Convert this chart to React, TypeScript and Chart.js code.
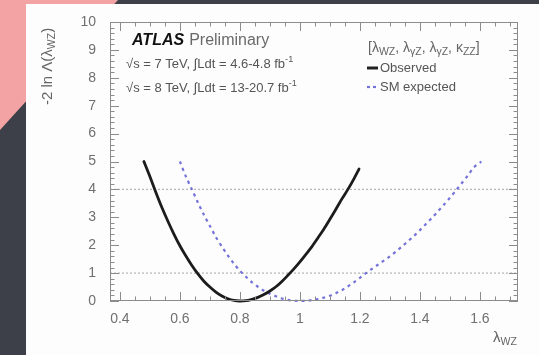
import React, { useEffect, useRef } from "react";
import { Chart, registerables } from "chart.js";

Chart.register(...registerables);

// ---- data ----
const obsX = [0.48, 0.5, 0.52, 0.54, 0.56, 0.58, 0.6, 0.62, 0.64, 0.66, 0.68, 0.7, 0.72, 0.74, 0.76, 0.78, 0.8, 0.82, 0.84, 0.86, 0.88, 0.9, 0.92, 0.94, 0.96, 0.98, 1.0, 1.02, 1.04, 1.06, 1.08, 1.1, 1.12, 1.14, 1.16, 1.18, 1.197];
const obsY = [5.0, 4.46, 3.89, 3.35, 2.86, 2.4, 1.98, 1.61, 1.27, 0.97, 0.71, 0.5, 0.32, 0.18, 0.08, 0.02, 0.0, 0.01, 0.06, 0.13, 0.23, 0.36, 0.51, 0.7, 0.92, 1.15, 1.4, 1.67, 1.95, 2.26, 2.58, 2.93, 3.29, 3.66, 4.0, 4.38, 4.73];

const expX = [0.6, 0.62, 0.64, 0.66, 0.68, 0.7, 0.72, 0.74, 0.76, 0.78, 0.8, 0.82, 0.84, 0.86, 0.88, 0.9, 0.92, 0.94, 0.96, 0.98, 1.0, 1.02, 1.04, 1.06, 1.08, 1.1, 1.12, 1.14, 1.16, 1.18, 1.2, 1.22, 1.24, 1.26, 1.28, 1.3, 1.32, 1.34, 1.36, 1.38, 1.4, 1.42, 1.44, 1.46, 1.48, 1.5, 1.52, 1.54, 1.56, 1.58, 1.605];
const expY = [5.0, 4.46, 4.0, 3.53, 3.09, 2.69, 2.29, 1.95, 1.63, 1.34, 1.08, 0.87, 0.67, 0.51, 0.37, 0.26, 0.17, 0.09, 0.04, 0.01, 0.0, 0.01, 0.03, 0.07, 0.12, 0.19, 0.28, 0.39, 0.52, 0.67, 0.83, 1.0, 1.15, 1.3, 1.45, 1.6, 1.77, 1.95, 2.14, 2.33, 2.54, 2.76, 2.98, 3.21, 3.45, 3.7, 3.96, 4.23, 4.5, 4.79, 5.0];

const xTickValues = [0.4, 0.6, 0.8, 1.0, 1.2, 1.4, 1.6];
const xTickLabels = ["0.4", "0.6", "0.8", "1", "1.2", "1.4", "1.6"];
const yTickValues = [0, 1, 2, 3, 4, 5, 6, 7, 8, 9, 10];
const yTickLabels = ["0", "1", "2", "3", "4", "5", "6", "7", "8", "9", "10"];
const refLevels = [1, 4];

const X_MIN = 0.367;
const X_MAX = 1.727;
const Y_MIN = 0;
const Y_MAX = 10;

const FONT = '"Liberation Sans", Arial, "DejaVu Sans", sans-serif';

type Part = { t: string; s?: "sub" | "sup"; b?: boolean; i?: boolean; c?: string };

function drawRich(ctx: CanvasRenderingContext2D, parts: Part[], x: number, y: number, size: number, color: string, subScale = 0.7) {
  let cx = x;
  ctx.textBaseline = "middle";
  ctx.textAlign = "left";
  for (const p of parts) {
    const sz = p.s ? size * subScale : size;
    ctx.font = `${p.i ? "italic " : ""}${p.b ? "bold " : ""}${sz}px ${FONT}`;
    ctx.fillStyle = p.c || color;
    const dy = p.s === "sub" ? size * 0.3 : p.s === "sup" ? -size * 0.35 : 0;
    ctx.fillText(p.t, cx, y + dy);
    cx += ctx.measureText(p.t).width;
  }
  return cx;
}

const decorPlugin = {
  id: "decor",
  beforeDatasetsDraw(chart: any) {
    const { ctx, chartArea } = chart;
    const ys = chart.scales.y;
    ctx.save();
    ctx.strokeStyle = "#b8b8b8";
    ctx.lineWidth = 1.3;
    ctx.setLineDash([2, 2]);
    for (const v of refLevels) {
      const py = ys.getPixelForValue(v);
      ctx.beginPath();
      ctx.moveTo(chartArea.left, py);
      ctx.lineTo(chartArea.right, py);
      ctx.stroke();
    }
    ctx.restore();
  },
  afterDatasetsDraw(chart: any) {
    const { ctx, chartArea } = chart;
    const xs = chart.scales.x;
    const ys = chart.scales.y;
    const { left, right, top, bottom } = chartArea;
    ctx.save();
    ctx.setLineDash([]);
    ctx.strokeStyle = "#8c8c8c";
    ctx.lineWidth = 1;
    ctx.strokeRect(left + 0.5, top + 0.5, right - left - 1, bottom - top - 1);

    ctx.beginPath();
    for (let k = Y_MIN * 5; k <= Y_MAX * 5; k++) {
      const v = k / 5;
      const py = Math.round(ys.getPixelForValue(v)) + 0.5;
      const len = k % 5 === 0 ? 9 : 4.5;
      ctx.moveTo(left, py);
      ctx.lineTo(left + len, py);
      ctx.moveTo(right, py);
      ctx.lineTo(right - len, py);
    }
    for (let k = Math.ceil(X_MIN * 20); k <= Math.floor(X_MAX * 20); k++) {
      const v = k / 20;
      const px = Math.round(xs.getPixelForValue(v)) + 0.5;
      const len = k % 4 === 0 ? 9 : 4.5;
      ctx.moveTo(px, bottom);
      ctx.lineTo(px, bottom - len);
      ctx.moveTo(px, top);
      ctx.lineTo(px, top + len);
    }
    ctx.stroke();

    // ATLAS label
    const ax = left + 22;
    const ex = drawRich(ctx, [{ t: "ATLAS", b: true, i: true, c: "#111" }], ax, top + 19, 16, "#111");
    drawRich(ctx, [{ t: "Preliminary" }], ex + 5, top + 19, 16, "#6a6a6a");
    drawRich(ctx, [{ t: "√s = 7 TeV, ∫Ldt = 4.6-4.8 fb" }, { t: "-1", s: "sup" }], left + 16, top + 42, 13, "#555");
    drawRich(ctx, [{ t: "√s = 8 TeV, ∫Ldt = 13-20.7 fb" }, { t: "-1", s: "sup" }], left + 16, top + 66, 13, "#555");

    // legend
    const lx = 367;
    drawRich(
      ctx,
      [
        { t: "[" }, { t: "λ" }, { t: "WZ", s: "sub" }, { t: ", " },
        { t: "λ" }, { t: "γZ", s: "sub" }, { t: ", " },
        { t: "λ" }, { t: "γZ", s: "sub" }, { t: ", " },
        { t: "κ" }, { t: "ZZ", s: "sub" }, { t: "]" },
      ],
      lx + 1, top + 26, 14, "#666", 0.75
    );
    ctx.lineWidth = 3;
    ctx.strokeStyle = "#222";
    ctx.beginPath();
    ctx.moveTo(lx, top + 46);
    ctx.lineTo(lx + 11, top + 46);
    ctx.stroke();
    drawRich(ctx, [{ t: "Observed" }], lx + 13, top + 46, 13, "#555");
    ctx.lineWidth = 2.2;
    ctx.strokeStyle = "rgba(90,90,210,0.85)";
    ctx.setLineDash([3, 3]);
    ctx.beginPath();
    ctx.moveTo(lx, top + 65);
    ctx.lineTo(lx + 11, top + 65);
    ctx.stroke();
    ctx.setLineDash([]);
    drawRich(ctx, [{ t: "SM expected" }], lx + 13, top + 65, 13, "#555");

    // axis titles
    drawRich(ctx, [{ t: "λ" }, { t: "WZ", s: "sub" }], right - 25, bottom + 37, 15, "#666");
    ctx.save();
    ctx.translate(48, 105);
    ctx.rotate(-Math.PI / 2);
    drawRich(ctx, [{ t: "-2 ln Λ(λ" }, { t: "WZ", s: "sub" }, { t: ")" }], 0, 0, 15, "#666");
    ctx.restore();

    ctx.restore();
  },
};

export default function App() {
  const ref = useRef<HTMLCanvasElement | null>(null);

  useEffect(() => {
    if (!ref.current) return;
    const chart = new Chart(ref.current, {
      type: "line",
      data: {
        datasets: [
          {
            label: "Observed",
            data: obsX.map((x, i) => ({ x, y: obsY[i] })),
            borderColor: "#1c1c1c",
            borderWidth: 2.8,
            pointRadius: 0,
            tension: 0.3,
            borderCapStyle: "round",
            clip: 4,
          },
          {
            label: "SM expected",
            data: expX.map((x, i) => ({ x, y: expY[i] })),
            borderColor: "rgba(90,90,210,0.85)",
            borderWidth: 2.2,
            borderDash: [3, 4],
            pointRadius: 0,
            tension: 0.3,
            clip: 4,
          },
        ],
      },
      options: {
        animation: false,
        responsive: true,
        maintainAspectRatio: false,
        layout: { padding: { left: 0, top: 22, right: 21, bottom: 24 } },
        plugins: { legend: { display: false }, tooltip: { enabled: false } },
        scales: {
          x: {
            type: "linear",
            min: X_MIN,
            max: X_MAX,
            grid: { display: false },
            border: { display: false },
            afterBuildTicks: (s: any) => {
              s.ticks = xTickValues.map((v) => ({ value: v }));
            },
            afterFit: (s: any) => {
              s.height = 30;
            },
            ticks: {
              autoSkip: false,
              maxRotation: 0,
              padding: 2,
              color: "#707070",
              font: { family: FONT, size: 14 },
              callback: (_v: any, i: number) => xTickLabels[i],
            },
          },
          y: {
            type: "linear",
            min: Y_MIN,
            max: Y_MAX,
            grid: { display: false },
            border: { display: false },
            afterBuildTicks: (s: any) => {
              s.ticks = yTickValues.map((v) => ({ value: v }));
            },
            afterFit: (s: any) => {
              s.width = 110;
            },
            ticks: {
              autoSkip: false,
              padding: 6,
              color: "#707070",
              font: { family: FONT, size: 14 },
              callback: (_v: any, i: number) => yTickLabels[i],
            },
          },
        },
      },
      plugins: [decorPlugin],
    } as any);
    return () => chart.destroy();
  }, []);

  return (
    <div style={{ position: "absolute", left: 0, top: 0, width: 539, height: 355, background: "#3d4048", overflow: "hidden" }}>
      <div
        style={{
          position: "absolute",
          left: 0,
          top: 0,
          width: 539,
          height: 355,
          background: "#f3a3a3",
          clipPath: "polygon(0px 0px, 118px 0px, 0px 130px)",
        }}
      />
      <div style={{ position: "absolute", left: 26, top: 4, width: 513, height: 351, background: "#fdfdfd" }} />
      <div style={{ position: "absolute", left: 0, top: 0, width: 539, height: 355 }}>
        <canvas ref={ref} />
      </div>
    </div>
  );
}
